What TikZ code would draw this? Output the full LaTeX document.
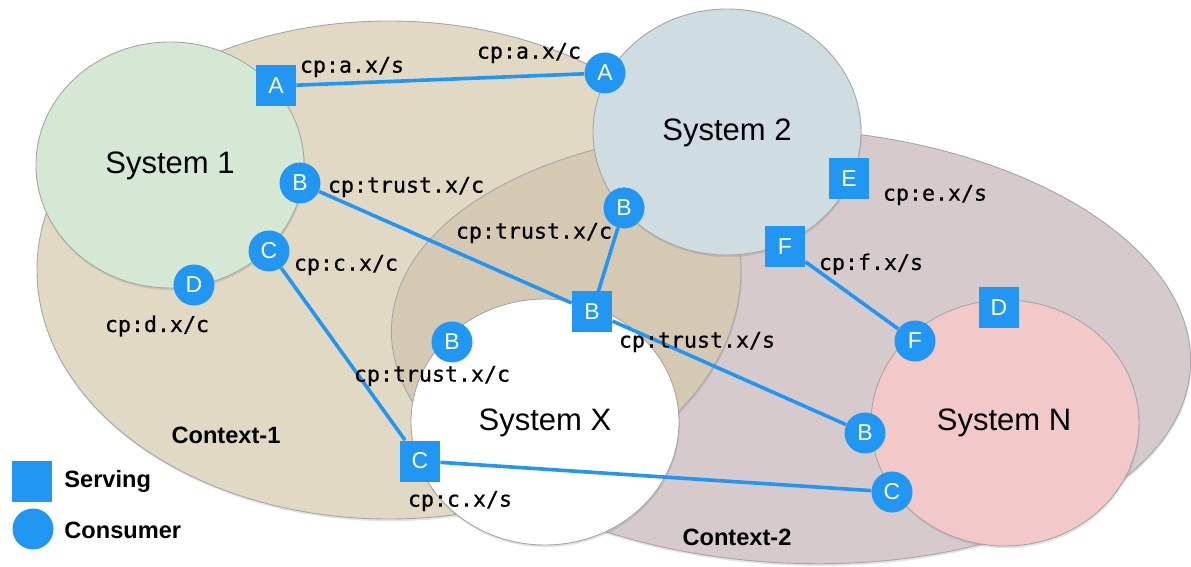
\documentclass[tikz,border=0pt]{standalone}
\usepackage{fontspec}
\setmainfont{Liberation Sans}
\newfontfamily\codefont[FakeBold=0.6]{DejaVu Sans Mono}
\usetikzlibrary{shadows}

\definecolor{ctxone}{HTML}{E1D9C4}
\definecolor{ctxtwo}{HTML}{D6CACD}
\definecolor{ctxboth}{HTML}{D5C9B4}
\definecolor{sysone}{HTML}{D5E8D4}
\definecolor{systwo}{HTML}{CFDCE2}
\definecolor{sysn}{HTML}{F2C9C8}
\definecolor{port}{HTML}{2196F3}
\definecolor{rimgray}{HTML}{A6A6A6}

\begin{document}
\begin{tikzpicture}[x=0.5pt, y=-0.5pt,
  rim/.style={draw=rimgray, line width=0.45pt},
  softshadow/.style={drop shadow={shadow xshift=0.4pt, shadow yshift=-1.1pt, opacity=0.22}},
  serve/.style={rectangle, fill=port, minimum width=20pt, minimum height=20.5pt, inner sep=0pt,
    text=white, font=\fontsize{11.5}{12}\selectfont},
  consume/.style={circle, fill=port, minimum size=20.5pt, inner sep=0pt,
    text=white, font=\fontsize{11.5}{12}\selectfont},
  link/.style={draw=port, line width=1.8pt},
  cp/.style={inner sep=0pt, font=\codefont\fontsize{10.8}{13}\selectfont},
  sysname/.style={inner sep=0pt, font=\fontsize{15.5}{18}\selectfont},
  ctxname/.style={inner sep=0pt, font=\bfseries\fontsize{11.8}{14}\selectfont},
  legendtext/.style={inner sep=0pt, anchor=west, font=\bfseries\fontsize{11.8}{14}\selectfont}
]
\useasboundingbox (0,0) rectangle (1191,567);

% contexts
\path[fill=ctxtwo, softshadow, rotate around={-3:(791,346)}]
  (791,346) ellipse [x radius=200pt, y radius=108.5pt];
\path[fill=ctxone, softshadow] (389,270) ellipse [x radius=176pt, y radius=124.5pt];
\begin{scope}
  \clip (389,270) ellipse [x radius=176pt, y radius=124.5pt];
  \path[fill=ctxboth, rotate around={-3:(791,346)}]
    (791,346) ellipse [x radius=200pt, y radius=108.5pt];
\end{scope}
\path[rim, rotate around={-3:(791,346)}] (791,346) ellipse [x radius=200pt, y radius=108.5pt];
\path[rim] (389,270) ellipse [x radius=176pt, y radius=124.5pt];

% systems
\path[fill=sysone, rim, softshadow] (170,165) ellipse [x radius=67pt, y radius=61.5pt];
\path[fill=systwo, rim, softshadow] (727,132) ellipse [x radius=67pt, y radius=61.5pt];
\path[fill=white, rim, softshadow] (545,422) ellipse [x radius=67pt, y radius=61.5pt];
\path[fill=sysn, rim, softshadow] (1005,423) ellipse [x radius=67pt, y radius=61.5pt];

\node[sysname] (nameOne) at (170,166) {System 1};
\node[sysname] (nameTwo) at (727,133) {System 2};
\node[sysname] (nameX) at (545,423) {System X};
\node[sysname] (nameN) at (1004,423) {System N};

\node[ctxname] (ctxOneName) at (226,435) {Context-1};
\node[ctxname] (ctxTwoName) at (737,537) {Context-2};

% endpoints
\node[serve] (sA1) at (276,86) {A};
\node[consume] (cA2) at (605,73) {A};
\node[consume] (cB1) at (300,183) {B};
\node[consume] (cC1) at (269,251) {C};
\node[consume] (cD1) at (194,285) {D};
\node[consume] (cB2) at (624,208) {B};
\node[serve] (sE2) at (849,179) {E};
\node[serve] (sF2) at (785,247) {F};
\node[serve] (sBX) at (592,312) {B};
\node[consume] (cBX) at (452,342) {B};
\node[serve] (sCX) at (420,461) {C};
\node[serve] (sDN) at (999,308) {D};
\node[consume] (cFN) at (915,341) {F};
\node[consume] (cBN) at (865,433) {B};
\node[consume] (cCN) at (892,492) {C};

% connections
\draw[link] (sA1) -- (cA2);
\draw[link] (cB1) -- (sBX);
\draw[link] (cB2) -- (sBX);
\draw[link] (sBX) -- (cBN);
\draw[link] (cC1) -- (sCX);
\draw[link] (sCX) -- (cCN);
\draw[link] (sF2) -- (cFN);

% endpoint labels
\node[cp] (lAs) at (352,67) {cp:a.x/s};
\node[cp] (lAc) at (529,53) {cp:a.x/c};
\node[cp] (lB1) at (406,187) {cp:trust.x/c};
\node[cp] (lC1) at (346,265) {cp:c.x/c};
\node[cp] (lD1) at (157,326) {cp:d.x/c};
\node[cp] (lB2) at (534,233) {cp:trust.x/c};
\node[cp] (lE2) at (935,195) {cp:e.x/s};
\node[cp] (lF2) at (871,264) {cp:f.x/s};
\node[cp] (lBs) at (697,342) {cp:trust.x/s};
\node[cp] (lBX) at (432,376) {cp:trust.x/c};
\node[cp] (lCs) at (460,501) {cp:c.x/s};

% legend
\node[serve] (keyServe) at (32,481) {};
\node[consume] (keyConsume) at (33,529) {};
\node[legendtext] (keyServeText) at (64,481) {Serving};
\node[legendtext] (keyConsumeText) at (64,530) {Consumer};
\end{tikzpicture}
\end{document}
